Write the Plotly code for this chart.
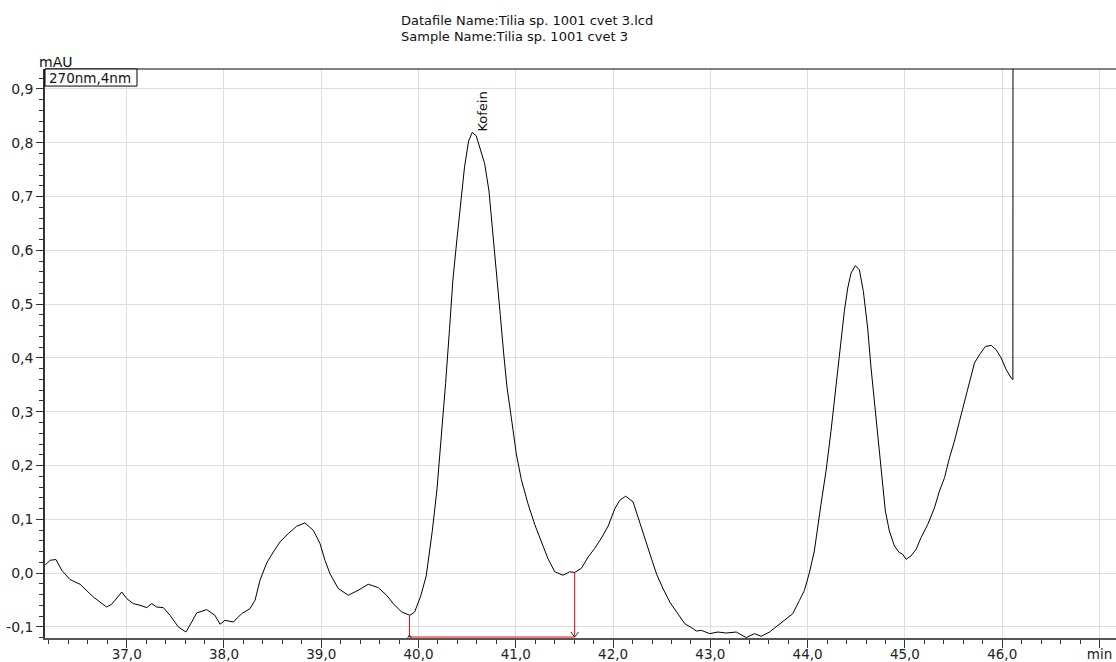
import plotly.graph_objects as go

# ---- data (time in min, signal in mAU) ----
time_min = [36.161, 36.212, 36.273, 36.332, 36.417, 36.52, 36.657, 36.794, 36.846, 36.949,
            37.0, 37.068, 37.137, 37.206, 37.257, 37.308, 37.376, 37.445, 37.531, 37.609,
            37.668, 37.719, 37.822, 37.907, 37.959, 38.01, 38.096, 38.182, 38.267, 38.319,
            38.37, 38.439, 38.507, 38.576, 38.661, 38.747, 38.832, 38.918, 38.987, 39.038,
            39.089, 39.175, 39.278, 39.38, 39.483, 39.586, 39.672, 39.74, 39.826, 39.912,
            39.96, 40.02, 40.079, 40.141, 40.189, 40.233, 40.278, 40.319, 40.353, 40.395,
            40.432, 40.473, 40.515, 40.552, 40.593, 40.628, 40.679, 40.724, 40.765, 40.806,
            40.84, 40.875, 40.909, 40.954, 41.005, 41.057, 41.125, 41.194, 41.262, 41.331,
            41.4, 41.485, 41.554, 41.605, 41.674, 41.743, 41.811, 41.88, 41.949, 42.017,
            42.069, 42.13, 42.206, 42.262, 42.328, 42.396, 42.447, 42.515, 42.584, 42.652,
            42.737, 42.823, 42.857, 42.908, 42.993, 43.078, 43.164, 43.266, 43.369, 43.454,
            43.522, 43.608, 43.693, 43.778, 43.846, 43.915, 43.966, 44.017, 44.069, 44.137,
            44.189, 44.24, 44.285, 44.333, 44.377, 44.412, 44.446, 44.491, 44.532, 44.573,
            44.617, 44.652, 44.686, 44.72, 44.755, 44.799, 44.84, 44.892, 44.943, 44.977,
            45.012, 45.063, 45.115, 45.166, 45.235, 45.304, 45.355, 45.407, 45.458, 45.509,
            45.561, 45.612, 45.664, 45.715, 45.767, 45.828, 45.887, 45.938, 45.99, 46.041,
            46.093, 46.11, 46.112]
signal_mau = [0.0147, 0.024, 0.0253, 0.0054, -0.0119, -0.0206, -0.0443, -0.0629, -0.0578, -0.035,
              -0.0473, -0.0566, -0.0597, -0.064, -0.0566, -0.0629, -0.064, -0.0783, -0.1, -0.1094,
              -0.0908, -0.074, -0.0677, -0.0783, -0.095, -0.0876, -0.0908, -0.0752, -0.0659, -0.0504,
              -0.0132, 0.019, 0.0394, 0.058, 0.0736, 0.0872, 0.0934, 0.0798, 0.055, 0.024,
              -0.0007, -0.0286, -0.0411, -0.0318, -0.0206, -0.0268, -0.0411, -0.0566, -0.0722, -0.0783,
              -0.072, -0.044, -0.0051, 0.078, 0.1546, 0.2505, 0.3527, 0.455, 0.5444, 0.621,
              0.6914, 0.7553, 0.8032, 0.8192, 0.8128, 0.7936, 0.7617, 0.7105, 0.6339, 0.5572,
              0.4805, 0.4089, 0.3463, 0.2888, 0.2217, 0.1738, 0.1291, 0.0907, 0.0588, 0.0268,
              0.0026, -0.0038, 0.0026, 0.0013, 0.0089, 0.03, 0.046, 0.0652, 0.0875, 0.1195,
              0.1355, 0.1431, 0.1323, 0.1, 0.066, 0.026, -0.0017, -0.0294, -0.054, -0.0724,
              -0.094, -0.1032, -0.1075, -0.1063, -0.1124, -0.1094, -0.1112, -0.1094, -0.1198, -0.1124,
              -0.1173, -0.1094, -0.0971, -0.0848, -0.0755, -0.0509, -0.0325, 0.0, 0.0413, 0.1278,
              0.1897, 0.2638, 0.338, 0.4184, 0.4864, 0.5297, 0.5575, 0.5717, 0.5637, 0.5235,
              0.4555, 0.3813, 0.3195, 0.2515, 0.1835, 0.1155, 0.0784, 0.0505, 0.0382, 0.0351,
              0.0258, 0.032, 0.0444, 0.066, 0.0907, 0.1216, 0.1526, 0.1773, 0.2144, 0.2453,
              0.2824, 0.3195, 0.3566, 0.3906, 0.406, 0.4215, 0.4233, 0.4153, 0.3998, 0.3782,
              0.3627, 0.3596, 1.5]

# peak label
peak_name = "Kofein"
peak_time = 40.552
peak_value = 0.8192

# integration baseline (start / end of the Kofein peak)
baseline_time = [39.907, 41.605]
baseline_value = [-0.0786, 0.0013]

x_tick_vals = [37, 38, 39, 40, 41, 42, 43, 44, 45, 46, 47]
x_tick_text = ["37,0", "38,0", "39,0", "40,0", "41,0", "42,0", "43,0", "44,0", "45,0", "46,0", "min"]
y_tick_vals = [-0.1, 0.0, 0.1, 0.2, 0.3, 0.4, 0.5, 0.6, 0.7, 0.8, 0.9]
y_tick_text = ["-0,1", "0,0", "0,1", "0,2", "0,3", "0,4", "0,5", "0,6", "0,7", "0,8", "0,9"]

title_lines = ["Datafile Name:Tilia sp. 1001 cvet 3.lcd", "Sample Name:Tilia sp. 1001 cvet 3"]
channel_label = "270nm,4nm"
y_unit = "mAU"

X_RANGE = [36.16, 47.17]
Y_RANGE = [-0.1205, 0.937]
FONT = "DejaVu Sans"
y_floor = -0.1187

fig = go.Figure()

fig.add_trace(go.Scatter(x=time_min, y=signal_mau, mode="lines",
                         line=dict(color="black", width=1), hoverinfo="skip"))

# red baseline markers
fig.add_trace(go.Scatter(x=[baseline_time[0], baseline_time[0], baseline_time[1], baseline_time[1]],
                         y=[baseline_value[0], y_floor, y_floor, baseline_value[1]],
                         mode="lines", line=dict(color="#ff0000", width=1), hoverinfo="skip"))
# arrow head at end of baseline
fig.add_trace(go.Scatter(x=[baseline_time[1] - 0.04, baseline_time[1], baseline_time[1] + 0.04],
                         y=[y_floor + 0.0095, y_floor, y_floor + 0.0095],
                         mode="lines", line=dict(color="#333333", width=1), hoverinfo="skip"))
# small mark at baseline start
fig.add_trace(go.Scatter(x=[baseline_time[0] - 0.02, baseline_time[0], baseline_time[0] + 0.02],
                         y=[y_floor - 0.002, y_floor + 0.004, y_floor - 0.002],
                         mode="lines", line=dict(color="#333333", width=1), hoverinfo="skip"))

fig.update_layout(
    width=1116, height=662,
    margin=dict(l=45, r=0, t=69, b=24),
    paper_bgcolor="white", plot_bgcolor="white",
    showlegend=False,
    font=dict(family=FONT, size=14, color="#222222"),
    xaxis=dict(range=X_RANGE, tickvals=x_tick_vals, ticktext=x_tick_text, automargin=False,
               showgrid=True, gridcolor="#dedede", gridwidth=1, zeroline=False,
               showline=True, linecolor="#555555", linewidth=1.5,
               ticks="outside", ticklen=8, tickcolor="#333333", tickwidth=1,
               ticklabelstandoff=-5,
               tickfont=dict(family=FONT, size=13.5, color="#222222"),
               minor=dict(dtick=0.2, tick0=37, ticks="outside", ticklen=4,
                          tickcolor="#333333", showgrid=False)),
    yaxis=dict(range=Y_RANGE, tickvals=y_tick_vals, ticktext=y_tick_text, automargin=False,
               showgrid=True, gridcolor="#dedede", gridwidth=1, zeroline=False,
               showline=True, linecolor="#333333", linewidth=1.5,
               ticks="outside", ticklen=7, tickcolor="#333333", tickwidth=1,
               tickfont=dict(family=FONT, size=14, color="#222222"),
               minor=dict(dtick=0.02, tick0=0, ticks="outside", ticklen=4,
                          tickcolor="#333333", showgrid=False)),
)

# top frame line
fig.add_shape(type="line", xref="paper", yref="paper", x0=0, x1=1, y0=1, y1=1,
              line=dict(color="black", width=1))
# channel box
fig.add_shape(type="rect", xref="paper", yref="paper", x0=0, x1=0.0859, y0=0.970, y1=1,
              line=dict(color="black", width=1), fillcolor="white")
fig.add_annotation(xref="paper", yref="paper", x=0.0015, y=0.985, xanchor="left", yanchor="middle",
                   text=channel_label, showarrow=False,
                   font=dict(family=FONT, size=13.5, color="#111111"))
# unit label
fig.add_annotation(xref="paper", yref="paper", x=-0.0075, y=1.0123, xanchor="left", yanchor="middle",
                   text=y_unit, showarrow=False,
                   font=dict(family=FONT, size=14, color="#111111"))
# title lines
fig.add_annotation(xref="paper", yref="paper", x=0.3305, y=1 + (69 - 20) / 569, xanchor="left",
                   yanchor="middle", text=title_lines[0], showarrow=False,
                   font=dict(family=FONT, size=13, color="#111111"))
fig.add_annotation(xref="paper", yref="paper", x=0.3305, y=1 + (69 - 36) / 569, xanchor="left",
                   yanchor="middle", text=title_lines[1], showarrow=False,
                   font=dict(family=FONT, size=13, color="#111111"))
# peak label
fig.add_annotation(x=peak_time, y=peak_value, xref="x", yref="y", text=peak_name,
                   textangle=-90, showarrow=False, xshift=10, yshift=21,
                   font=dict(family=FONT, size=13, color="#111111"))

fig.write_html("out.html")
